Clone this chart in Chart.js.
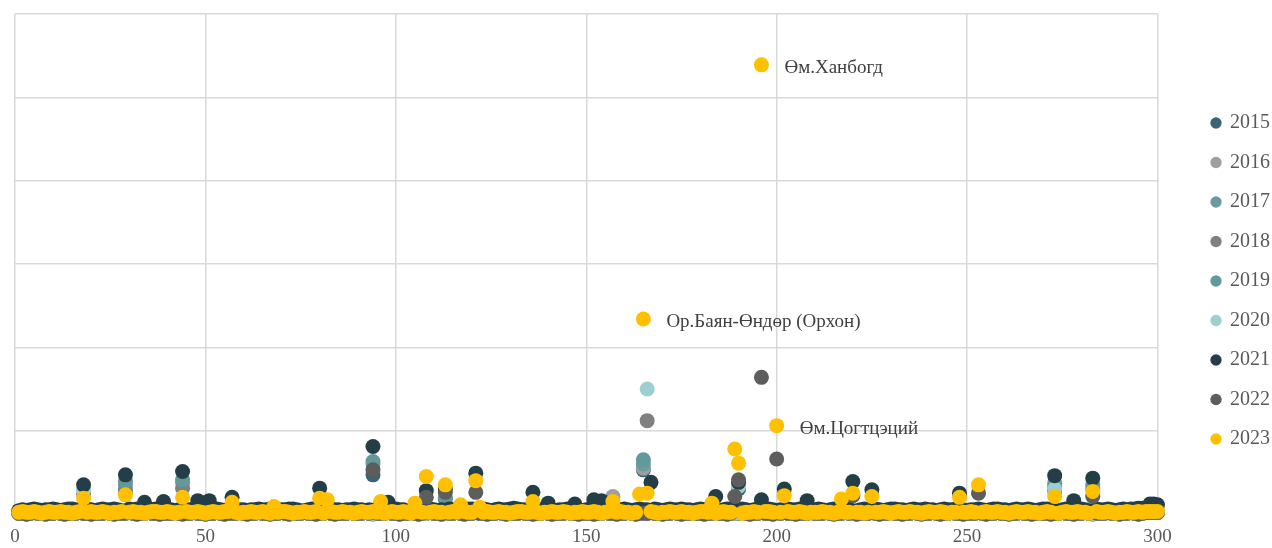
<!DOCTYPE html>
<html>
<head>
<meta charset="utf-8">
<script src="https://cdn.jsdelivr.net/npm/chart.js@4"></script>
<style>
  html, body { margin: 0; padding: 0; background: #fff; }
  #wrap { width: 1272px; height: 548px; }
</style>
</head>
<body>
<div id="wrap"><canvas id="chart"></canvas></div>
<script>
const years = ["2015", "2016", "2017", "2018", "2019", "2020", "2021", "2022", "2023"];
const colors = ["#3b6474", "#9e9e9e", "#6a9c9e", "#808080", "#64999b", "#9dcfd1", "#243e47", "#5d5d5d", "#ffc000"];

// near-zero level of every soum (soum no. 1..300)
const lowTop = [
    4,5,4,5,6,5,4,5,5,6,5,4,5,6,6,5,4,5,6,5,4,5,6,5,5,6,5,4,5,6,
    5,6,6,5,4,5,6,7,6,5,5,4,5,6,5,5,6,6,5,4,5,5,6,5,4,5,6,6,5,5,
    4,5,5,6,5,5,6,5,4,5,5,6,6,5,4,4,5,6,5,5,6,7,6,5,5,4,5,5,6,5,
    5,4,5,6,6,5,5,4,5,6,5,5,4,5,6,5,5,6,6,5,4,5,5,6,5,5,4,5,6,6,
    5,5,6,5,4,5,6,5,5,6,7,6,5,5,4,5,6,5,5,6,5,4,5,5,6,6,5,5,4,5,
    6,5,5,4,5,6,6,5,5,6,5,4,5,6,5,5,6,6,5,4,5,6,5,5,6,5,5,4,5,6,
    5,6,5,5,4,5,6,6,5,5,6,5,4,5,6,5,5,6,5,4,5,6,6,5,5,6,5,5,4,5,
    6,5,4,5,6,5,5,6,6,5,4,5,6,5,5,6,5,4,5,6,6,5,5,4,5,6,5,5,6,5,
    5,4,5,6,5,5,6,6,5,4,5,5,6,5,4,5,6,6,5,5,4,5,6,5,5,6,5,4,5,6,
    6,5,5,4,5,6,5,5,6,6,5,4,5,6,5,5,6,5,4,5,6,5,6,6,7,7,6,7,7,7
];
const lowMid = [
    2,3,2,2,3,2,1,2,3,2,2,3,2,2,1,2,3,2,2,3,2,2,3,2,1,2,2,3,2,2,
    3,2,2,1,2,3,3,2,2,3,2,1,2,2,3,2,2,3,2,1,2,3,2,2,3,3,2,2,1,2,
    2,3,2,2,3,2,1,2,2,3,3,2,1,2,2,3,2,2,3,2,1,2,3,2,2,3,2,2,1,2,
    3,2,2,3,2,2,1,2,3,2,2,3,2,1,2,3,2,2,2,3,2,2,1,2,3,2,2,3,2,2,
    2,1,2,3,2,2,3,2,2,1,2,3,3,2,2,3,2,1,2,2,3,2,2,3,2,1,2,2,3,2,
    2,3,2,1,2,3,2,2,3,2,2,1,2,3,2,2,3,2,1,2,2,3,2,2,3,2,2,1,2,3,
    3,2,2,1,2,3,2,2,3,2,1,2,2,3,2,2,3,3,2,1,2,2,3,2,2,3,2,1,2,2,
    2,3,2,2,1,2,3,2,2,3,2,2,1,2,3,2,2,3,2,1,2,3,2,2,3,2,2,1,2,3,
    2,2,3,2,1,2,2,3,2,2,3,2,1,2,3,2,2,3,2,2,1,2,3,2,2,3,2,2,1,2,
    3,2,2,1,2,3,2,2,3,2,2,1,2,3,2,2,3,2,1,2,2,3,2,2,3,2,3,3,3,3
];
const lowBottom = [
    1,1,0,1,2,1,1,0,1,1,2,1,0,1,1,1,2,1,1,0,1,1,1,2,1,0,1,1,1,2,
    1,0,1,1,2,1,1,0,1,1,1,2,1,0,1,1,2,1,1,0,1,1,2,1,0,1,1,1,2,1,
    0,1,1,2,1,1,0,1,1,2,1,0,1,1,1,2,1,1,0,1,1,2,1,0,1,1,1,2,1,1,
    1,2,1,0,1,1,1,2,1,1,0,1,1,2,1,0,1,1,2,1,1,0,1,1,1,2,1,0,1,1,
    2,1,1,0,1,1,2,1,0,1,1,1,2,1,1,0,1,1,2,1,0,1,1,1,2,1,1,0,1,1,
    1,0,1,1,2,1,1,0,1,1,2,1,0,1,1,1,2,1,1,0,1,1,2,1,0,1,1,2,1,1,
    0,1,1,2,1,1,0,1,1,1,2,1,0,1,1,2,1,1,0,1,1,2,1,1,0,1,1,1,2,1,
    1,1,2,1,0,1,1,2,1,1,0,1,1,1,2,1,0,1,1,2,1,1,0,1,1,2,1,0,1,1,
    2,1,0,1,1,2,1,1,0,1,1,1,2,1,0,1,1,2,1,1,0,1,1,2,1,1,0,1,1,1,
    1,0,1,1,2,1,1,0,1,1,2,1,0,1,1,1,2,1,1,0,1,1,2,1,0,1,2,2,2,2
];

// soums that stand out, [soum no., value]
const peaks2015 = [[94, 47], [113, 18], [165, 53], [190, 30], [273, 28]];
const peaks2016 = [[157, 21], [165, 55], [29, 27]];
const peaks2017 = [[29, 35], [44, 38], [94, 60], [165, 60], [273, 33], [283, 31]];
const peaks2018 = [[29, 29], [44, 31], [166, 112], [190, 35], [18, 24]];
const peaks2019 = [[29, 39], [44, 41], [94, 63], [113, 20], [165, 65], [273, 37], [283, 35]];
const peaks2020 = [[18, 29], [166, 150], [190, 33], [273, 30]];
const peaks2021 = [[18, 35], [29, 47], [34, 14], [39, 15], [44, 51], [48, 16], [51, 16], [57, 20], [80, 31],
    [94, 81], [98, 14], [108, 28], [113, 30], [121, 49], [136, 26], [140, 13], [147, 12], [152, 17], [154, 16],
    [167, 38], [184, 21], [190, 38], [196, 17], [202, 30], [208, 16], [220, 39], [225, 29], [248, 25],
    [273, 46], [278, 16], [283, 43], [298, 12], [299, 12], [300, 11]];
const peaks2022 = [[94, 53], [108, 20], [113, 26], [121, 26], [189, 21], [190, 41], [196, 164], [200, 66],
    [220, 22], [253, 25], [283, 21]];
const peaks2023 = [[18, 19], [29, 23], [44, 20], [57, 14], [68, 9], [80, 19], [82, 17], [96, 15], [105, 13],
    [108, 45], [113, 35], [117, 11], [121, 40], [122, 8], [136, 15], [157, 15], [164, 24], [165, 234], [166, 25],
    [183, 13], [189, 78], [190, 61], [196, 539], [200, 106], [202, 22], [217, 18], [220, 25], [225, 21],
    [248, 20], [253, 35], [273, 21], [283, 27]];

const lows = [lowBottom, lowBottom, lowBottom, lowBottom, lowBottom, lowBottom, lowTop, lowBottom, lowMid];
const peaks = [peaks2015, peaks2016, peaks2017, peaks2018, peaks2019, peaks2020, peaks2021, peaks2022, peaks2023];

const namedPoints = [
    ["2023", 196, "Өм.Ханбогд"],
    ["2023", 165, "Ор.Баян-Өндөр (Орхон)"],
    ["2023", 200, "Өм.Цогтцэций"]
];

function buildSeries(low, pk) {
    const vals = low.slice();
    pk.forEach(([s, v]) => { vals[s - 1] = v; });
    return vals.map((v, i) => ({ x: i + 1, y: v }));
}

const serif = "'Liberation Serif', 'Times New Roman', serif";

// names next to the outstanding soums
const pointNames = {
    id: "pointNames",
    afterDatasetsDraw(chart) {
        const ctx = chart.ctx;
        ctx.save();
        ctx.font = "19px " + serif;
        ctx.fillStyle = "#404040";
        ctx.textBaseline = "middle";
        namedPoints.forEach(([year, soum, name]) => {
            const el = chart.getDatasetMeta(years.indexOf(year)).data[soum - 1];
            ctx.fillText(name, el.x + 23, el.y + 3);
        });
        ctx.restore();
    }
};

// push legend to the right edge, leaving a gap after the plot
const legendShift = {
    id: "legendShift",
    afterLayout(chart) {
        chart.legend.left += 35;
        chart.legend.right += 35;
    }
};

const ctx = document.getElementById("chart").getContext("2d");
const chart = new Chart(ctx, {
    type: "scatter",
    data: {
        datasets: years.map((y, i) => ({
            label: y,
            data: buildSeries(lows[i], peaks[i]),
            backgroundColor: colors[i],
            borderColor: colors[i],
            borderWidth: 0,
            pointRadius: 7.5,
            pointHoverRadius: 7.5,
            clip: false,
            order: years.length - 1 - i
        }))
    },
    options: {
        responsive: true,
        maintainAspectRatio: false,
        animation: false,
        layout: { padding: { left: 15, top: 14, right: 27, bottom: 0 } },
        scales: {
            x: {
                type: "linear",
                min: 0,
                max: 300,
                ticks: { stepSize: 50, color: "#595959", padding: 12, font: { family: serif, size: 19 } },
                grid: { color: "#d9d9d9", lineWidth: 1.5, drawTicks: false },
                border: { display: false },
                afterFit(scale) {
                    scale.height = 34;
                    scale.paddingLeft = 0;
                    scale.paddingRight = 0;
                }
            },
            y: {
                min: 0,
                max: 600,
                ticks: { stepSize: 100, display: false },
                grid: { color: "#d9d9d9", lineWidth: 1.5, drawTicks: false },
                border: { display: false }
            }
        },
        plugins: {
            tooltip: { enabled: false },
            legend: {
                position: "right",
                reverse: true,
                labels: {
                    usePointStyle: true,
                    pointStyle: "circle",
                    boxWidth: 8,
                    boxHeight: 8,
                    padding: 19.5,
                    color: "#595959",
                    font: { family: serif, size: 20 }
                }
            }
        }
    },
    plugins: [pointNames, legendShift]
});
</script>
</body>
</html>
